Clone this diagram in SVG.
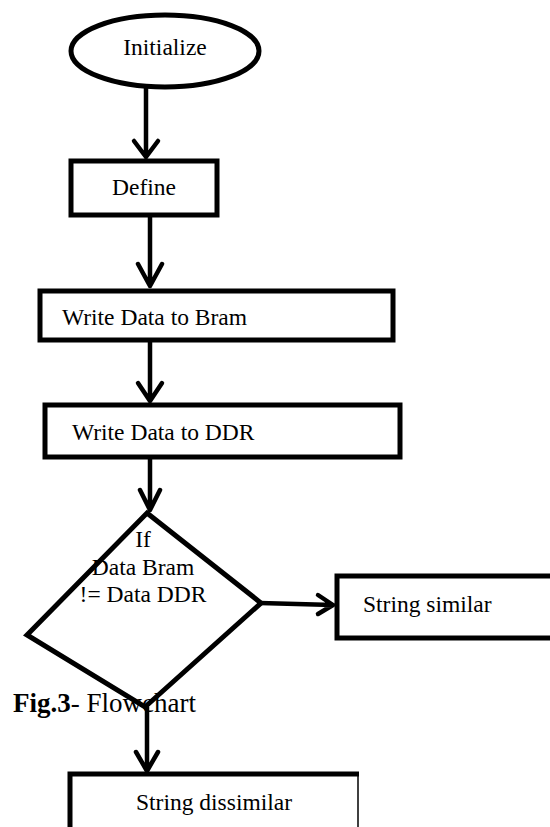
<svg xmlns="http://www.w3.org/2000/svg" width="550" height="827" viewBox="0 0 550 827">
<style>
.shape{fill:#fff;stroke:#000;stroke-width:5}
.line{fill:none;stroke:#000;stroke-width:4.5;stroke-linecap:round;stroke-linejoin:round}
text{font-family:'Liberation Serif','Times New Roman','DejaVu Serif',serif;fill:#000}
.t{font-size:23.5px}
.cap{font-size:27px}
</style>
<defs>
<clipPath id="clipDis"><rect x="0" y="700" width="359" height="127"/></clipPath>
</defs>
<text class="cap" x="13" y="712"><tspan font-weight="bold">Fig.3</tspan>- Flowchart</text>
<g id="connectors">
<path class="line" d="M146 87 V157 M134 141 L146 157 L158 141"/>
<path class="line" d="M150 215 V286 M138 264 L150 286 L162 264"/>
<path class="line" d="M150 340 V401 M138 383 L150 401 L162 383"/>
<path class="line" d="M150 457 V510 M140 490 L150 510 L160 490"/>
<path class="line" d="M260 603 L333 605 M318 595 L333 605 L318 614"/>
<path class="line" d="M147 707 V771 M136 752 L147 771 L158 752"/>
</g>
<g id="initialize">
<ellipse class="shape" cx="165" cy="51" rx="94" ry="36" stroke-width="4.5"/>
<text class="t" x="165" y="55" text-anchor="middle">Initialize</text>
</g>
<g id="define">
<rect class="shape" x="71" y="161" width="146" height="54"/>
<text class="t" x="144" y="195" text-anchor="middle">Define</text>
</g>
<g id="write-bram">
<rect class="shape" x="40" y="291" width="353" height="49"/>
<text class="t" x="62" y="325">Write Data to Bram</text>
</g>
<g id="write-ddr">
<rect class="shape" x="45" y="405" width="355" height="52"/>
<text class="t" x="72" y="440">Write Data to DDR</text>
</g>
<g id="decision">
<polygon class="shape" style="fill:none" points="147,513 261,603 145,707 27,635"/>
<text class="t" text-anchor="middle"><tspan x="143" y="547">If</tspan><tspan x="143" y="575">Data Bram</tspan><tspan x="143" y="602">!= Data DDR</tspan></text>
</g>
<g id="string-similar">
<rect class="shape" x="337" y="576" width="230" height="62"/>
<text class="t" x="363" y="612">String similar</text>
</g>
<g id="string-dissimilar">
<rect class="shape" x="70" y="774" width="300" height="80" clip-path="url(#clipDis)"/>
<line x1="358" y1="772" x2="358" y2="827" stroke="#000" stroke-width="1.5"/>
<text class="t" x="136" y="810">String dissimilar</text>
</g>
</svg>
